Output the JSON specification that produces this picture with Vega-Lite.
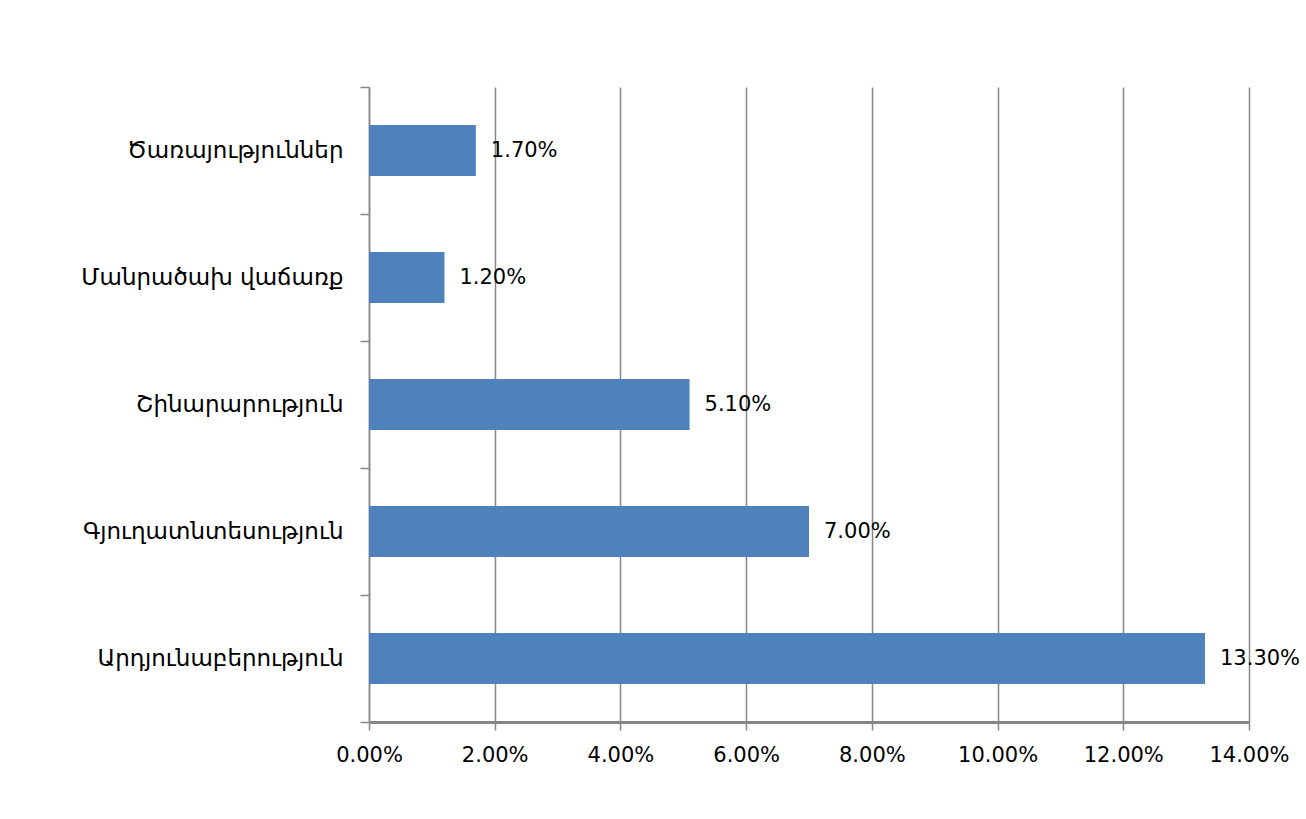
{
  "$schema": "https://vega.github.io/schema/vega-lite/v6.json",
  "width": 880,
  "height": 635,
  "autosize": {"type": "none"},
  "padding": {"left": 369, "top": 87, "right": 57, "bottom": 97},
  "background": "white",
  "data": {
    "values": [
      {"sector": "Ծառայություններ", "value": 0.017},
      {"sector": "Մանրածախ վաճառք", "value": 0.012},
      {"sector": "Շինարարություն", "value": 0.051},
      {"sector": "Գյուղատնտեսություն", "value": 0.070},
      {"sector": "Արդյունաբերություն", "value": 0.133}
    ]
  },
  "encoding": {
    "y": {
      "field": "sector",
      "type": "nominal",
      "sort": null,
      "scale": {"paddingInner": 0, "paddingOuter": 0},
      "axis": {
        "title": null,
        "tickBand": "extent",
        "tickSize": 9,
        "tickColor": "#868686",
        "tickWidth": 1.5,
        "domainColor": "#868686",
        "domainWidth": 1.5,
        "labelPadding": 17,
        "labelLimit": 0,
        "labelFont": "DejaVu Sans",
        "labelFontSize": 23,
        "labelColor": "black",
        "grid": false
      }
    },
    "x": {
      "field": "value",
      "type": "quantitative",
      "scale": {"domain": [0, 0.14], "nice": false},
      "axis": {
        "title": null,
        "values": [0, 0.02, 0.04, 0.06, 0.08, 0.1, 0.12, 0.14],
        "format": ".2%",
        "grid": true,
        "gridColor": "#868686",
        "gridWidth": 1.5,
        "gridOpacity": 1,
        "tickSize": 8,
        "tickColor": "#868686",
        "tickWidth": 1.5,
        "domainColor": "#868686",
        "domainWidth": 3,
        "labelPadding": 14,
        "labelFlush": false,
        "labelOverlap": false,
        "labelLimit": 0,
        "labelFont": "DejaVu Sans",
        "labelFontSize": 21,
        "labelColor": "black"
      }
    }
  },
  "layer": [
    {
      "mark": {"type": "bar", "color": "#4F81BD", "height": {"band": 0.4}}
    },
    {
      "mark": {"type": "text", "align": "left", "baseline": "middle", "dx": 15, "font": "DejaVu Sans", "fontSize": 21, "color": "black"},
      "encoding": {
        "text": {"field": "value", "type": "quantitative", "format": ".2%"}
      }
    }
  ],
  "config": {
    "view": {"stroke": null}
  }
}
